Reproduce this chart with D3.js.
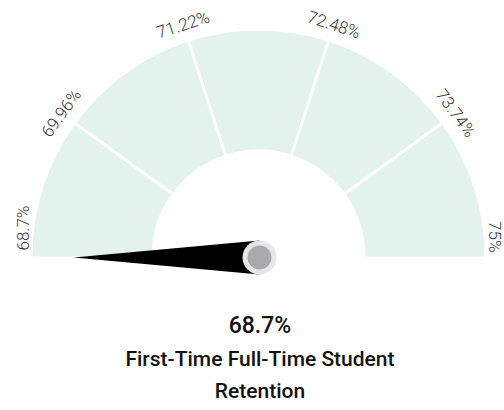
<!DOCTYPE html>
<html>
<head>
<meta charset="utf-8">
<script src="https://cdn.jsdelivr.net/npm/d3@7"></script>
<style>
  html, body { margin: 0; padding: 0; background: #fff; }
  svg { display: block; }
</style>
</head>
<body>
<svg id="chart" width="504" height="410"></svg>
<script>
// ---- data ----
const tickValues = [68.7, 69.96, 71.22, 72.48, 73.74, 75];
const tickLabels = ["68.7%", "69.96%", "71.22%", "72.48%", "73.74%", "75%"];
const gaugeValue = 68.7;
const valueLabel = "68.7%";
const titleLines = ["First-Time Full-Time Student", "Retention"];

// ---- layout ----
const cx = 258.5, cy = 256.5;
const rOuter = 226, rInner = 107;
const segColor = "#e3f2ed";

const svg = d3.select("#chart");
const g = svg.append("g").attr("transform", `translate(${cx},${cy})`);

// angle scale: value -> radians (0 = up, clockwise)
const angle = d3.scaleLinear()
  .domain([tickValues[0], tickValues[tickValues.length - 1]])
  .range([-Math.PI / 2, Math.PI / 2]);

const segments = d3.pairs(tickValues);
const arc = d3.arc().innerRadius(rInner).outerRadius(rOuter);

g.selectAll("path.seg")
  .data(segments)
  .join("path")
  .attr("class", "seg")
  .attr("fill", segColor)
  .attr("d", d => arc({ startAngle: angle(d[0]), endAngle: angle(d[1]) }));

// separators between segments
g.selectAll("line.sep")
  .data(tickValues.slice(1, -1))
  .join("line")
  .attr("class", "sep")
  .attr("x1", d => Math.sin(angle(d)) * (rInner - 2))
  .attr("y1", d => -Math.cos(angle(d)) * (rInner - 2))
  .attr("x2", d => Math.sin(angle(d)) * (rOuter + 2))
  .attr("y2", d => -Math.cos(angle(d)) * (rOuter + 2))
  .attr("stroke", "#fff")
  .attr("stroke-width", 3);

// labels
const n = tickValues.length;
const isEnd = i => i === 0 || i === n - 1;
g.selectAll("text.tick")
  .data(tickValues)
  .join("text")
  .attr("class", "tick")
  .attr("transform", (d, i) => `rotate(${angle(d) * 180 / Math.PI}) translate(0,${-(isEnd(i) ? 230 : 238)})`)
  .attr("x", (d, i) => i === 0 ? 6 : (i === n - 1 ? -4 : 0))
  .attr("text-anchor", (d, i) => i === 0 ? "start" : (i === n - 1 ? "end" : "middle"))
  .attr("font-family", "Roboto")
  .attr("font-weight", 300)
  .attr("font-size", 17)
  .attr("fill", "#333")
  .text((d, i) => tickLabels[i]);

// needle
const a = angle(gaugeValue);
const needleLen = 186, halfW = 17;
const tip = [Math.sin(a) * needleLen, -Math.cos(a) * needleLen];
const p1 = [Math.cos(a) * halfW, Math.sin(a) * halfW];
const p2 = [-Math.cos(a) * halfW, -Math.sin(a) * halfW];
const hub = g.append("g").attr("transform", "translate(1,1)");
hub.append("path")
  .attr("d", d3.line()([tip, p1, p2]) + "Z")
  .attr("fill", "#000");
hub.append("circle").attr("r", 17).attr("fill", "#e6e6e6");
hub.append("circle").attr("r", 12).attr("fill", "#aaaaad");

// value + title
const textG = svg.append("g").attr("font-family", "Roboto").attr("font-weight", 500)
  .attr("fill", "#111").attr("text-anchor", "middle");
textG.append("text").attr("x", 260).attr("y", 333).attr("font-size", 23).text(valueLabel);
textG.selectAll("text.title")
  .data(titleLines)
  .join("text")
  .attr("class", "title")
  .attr("x", 260)
  .attr("y", (d, i) => 366 + i * 32)
  .attr("font-size", 21)
  .text(d => d);
</script>
</body>
</html>
